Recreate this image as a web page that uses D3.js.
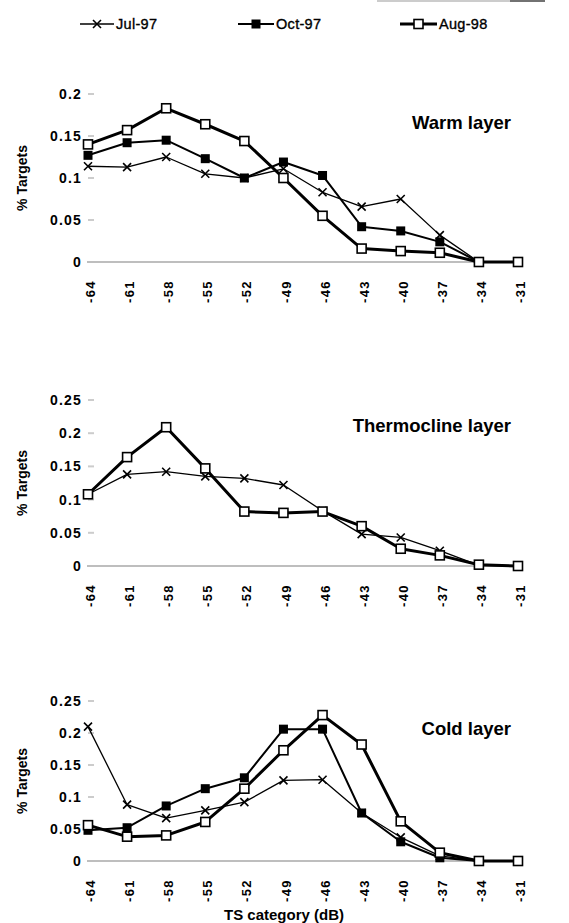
<!DOCTYPE html>
<html>
<head>
<meta charset="utf-8">
<script src="https://cdn.jsdelivr.net/npm/d3@7"></script>
<style>
  html, body { margin: 0; padding: 0; background: #fff; }
  svg { display: block; font-family: "Liberation Sans", Arial, sans-serif; }
</style>
</head>
<body>
<svg id="chart" width="569" height="923"></svg>
<script>
// TS categories (dB) along the x axis
const categories = [-64, -61, -58, -55, -52, -49, -46, -43, -40, -37, -34, -31];

const seriesNames = ["Jul-97", "Oct-97", "Aug-98"];

// Warm layer
const warmJul97 = [0.114, 0.113, 0.125, 0.105, 0.100, 0.111, 0.083, 0.066, 0.075, 0.032, 0.000, 0.000];
const warmOct97 = [0.127, 0.142, 0.145, 0.123, 0.100, 0.119, 0.103, 0.042, 0.037, 0.024, 0.000, 0.000];
const warmAug98 = [0.140, 0.157, 0.183, 0.164, 0.144, 0.100, 0.055, 0.016, 0.013, 0.011, 0.000, 0.000];

// Thermocline layer
const thermoJul97 = [0.108, 0.138, 0.142, 0.135, 0.132, 0.122, 0.083, 0.048, 0.043, 0.023, 0.001, 0.000];
const thermoAug98 = [0.108, 0.164, 0.209, 0.147, 0.082, 0.080, 0.082, 0.060, 0.026, 0.016, 0.002, 0.000];

// Cold layer
const coldJul97 = [0.210, 0.088, 0.067, 0.079, 0.092, 0.126, 0.127, 0.075, 0.037, 0.008, 0.000, 0.000];
const coldOct97 = [0.048, 0.052, 0.086, 0.113, 0.130, 0.206, 0.206, 0.075, 0.030, 0.005, 0.000, 0.000];
const coldAug98 = [0.056, 0.038, 0.040, 0.061, 0.113, 0.173, 0.228, 0.182, 0.062, 0.013, 0.000, 0.000];

const warmTicks = [0, 0.05, 0.1, 0.15, 0.2];
const layerTicks = [0, 0.05, 0.1, 0.15, 0.2, 0.25];

const panels = [
  { title: "Warm layer", yMax: 0.2, ticks: warmTicks, top: 94, bottom: 262, titleX: 511, titleY: 129,
    series: [ { name: "Jul-97", values: warmJul97 }, { name: "Oct-97", values: warmOct97 }, { name: "Aug-98", values: warmAug98 } ] },
  { title: "Thermocline layer", yMax: 0.25, ticks: layerTicks, top: 400, bottom: 566, titleX: 511, titleY: 432,
    series: [ { name: "Jul-97", values: thermoJul97 }, { name: "Aug-98", values: thermoAug98 } ] },
  { title: "Cold layer", yMax: 0.25, ticks: layerTicks, top: 701, bottom: 861, titleX: 511, titleY: 735,
    series: [ { name: "Jul-97", values: coldJul97 }, { name: "Oct-97", values: coldOct97 }, { name: "Aug-98", values: coldAug98 } ] }
];

const styles = {
  "Jul-97": { width: 1.3, marker: "x" },
  "Oct-97": { width: 2.0, marker: "filled" },
  "Aug-98": { width: 3.0, marker: "open" }
};

const svg = d3.select("#chart");
const x = d3.scalePoint().domain(categories).range([88, 518]);

function drawMarker(g, type, cx, cy) {
  if (type === "x") {
    const s = 4;
    g.append("path")
      .attr("d", `M${cx - s},${cy - s}L${cx + s},${cy + s}M${cx - s},${cy + s}L${cx + s},${cy - s}`)
      .attr("stroke", "#000").attr("stroke-width", 1.6).attr("fill", "none");
  } else if (type === "filled") {
    g.append("rect").attr("x", cx - 4.5).attr("y", cy - 4.5).attr("width", 9).attr("height", 9)
      .attr("fill", "#000");
  } else {
    g.append("rect").attr("x", cx - 4.5).attr("y", cy - 4.5).attr("width", 9).attr("height", 9)
      .attr("fill", "#fff").attr("stroke", "#000").attr("stroke-width", 1.6);
  }
}

// faint rule at the very top of the sheet
svg.append("line").attr("x1", 377).attr("x2", 545).attr("y1", 1).attr("y2", 1)
  .attr("stroke", "#bbb").attr("stroke-width", 1.5);
svg.append("line").attr("x1", 510).attr("x2", 545).attr("y1", 1).attr("y2", 1)
  .attr("stroke", "#555").attr("stroke-width", 1.5);

// Legend
const legendItems = [
  { name: "Jul-97", x1: 80, x2: 114 },
  { name: "Oct-97", x1: 238, x2: 274 },
  { name: "Aug-98", x1: 400, x2: 437 }
];
const legend = svg.append("g");
legendItems.forEach(d => {
  const st = styles[d.name];
  legend.append("line").attr("x1", d.x1).attr("x2", d.x2).attr("y1", 24).attr("y2", 24)
    .attr("stroke", "#000").attr("stroke-width", st.width);
  drawMarker(legend, st.marker, (d.x1 + d.x2) / 2, 24);
  legend.append("text").attr("x", d.x2 + 2).attr("y", 29)
    .attr("font-size", 14.5).attr("fill", "#000")
    .attr("stroke", "#000").attr("stroke-width", 0.35)
    .attr("letter-spacing", 0.3)
    .text(d.name);
});

const tickFont = { size: 14, spacing: 1.2 };

panels.forEach((p, i) => {
  const g = svg.append("g");
  const y = d3.scaleLinear().domain([0, p.yMax]).range([p.bottom, p.top]);

  // y axis: labels and faint tick marks
  const yAxis = d3.axisLeft(y).tickValues(p.ticks).tickSize(0).tickPadding(0)
    .tickFormat(d => d === 0 ? "0" : String(+d.toFixed(2)));
  const ya = g.append("g").attr("transform", "translate(82,0)").call(yAxis);
  ya.select(".domain").remove();
  ya.selectAll("text").attr("font-size", tickFont.size).attr("font-weight", "bold")
    .attr("letter-spacing", tickFont.spacing).attr("fill", "#000")
    .attr("font-family", "'Liberation Sans', Arial, sans-serif");
  g.selectAll(".ytick").data(p.ticks.filter(t => t > 0)).join("line")
    .attr("x1", 88).attr("x2", 94).attr("y1", d => y(d)).attr("y2", d => y(d))
    .attr("stroke", "#ccc").attr("stroke-width", 2);

  // zero line
  g.append("line").attr("x1", 87).attr("x2", 506).attr("y1", y(0)).attr("y2", y(0))
    .attr("stroke", "#a8a8a8").attr("stroke-width", 1.5);

  // x axis labels, rotated to read upward
  const xAxis = d3.axisBottom(x).tickSize(0).tickPadding(0);
  const xa = g.append("g").attr("transform", `translate(0,${y(0) + 14})`).call(xAxis);
  xa.select(".domain").remove();
  xa.selectAll("text")
    .attr("transform", "rotate(-90)")
    .attr("text-anchor", "end")
    .attr("dy", "0.35em")
    .attr("x", 0).attr("y", 2)
    .attr("font-size", 13).attr("font-weight", "bold")
    .attr("letter-spacing", 1.3).attr("fill", "#000")
    .attr("font-family", "'Liberation Sans', Arial, sans-serif");
  xa.selectAll("text").attr("text-anchor", "start").attr("x", -27);

  // y title
  g.append("text")
    .attr("transform", `translate(27,${(p.top + p.bottom) / 2}) rotate(-90)`)
    .attr("text-anchor", "middle").attr("font-size", 14).attr("font-weight", "bold")
    .text("% Targets");

  // panel title
  g.append("text").attr("x", p.titleX).attr("y", p.titleY)
    .attr("text-anchor", "end").attr("font-size", 18.5).attr("font-weight", "bold")
    .text(p.title);

  // series lines, then markers on top
  p.series.forEach(s => {
    const st = styles[s.name];
    const pts = categories.map((c, k) => [x(c), y(s.values[k])]);
    g.append("path").attr("d", d3.line()(pts))
      .attr("fill", "none").attr("stroke", "#000").attr("stroke-width", st.width)
      .attr("stroke-linejoin", "round");
  });
  p.series.forEach(s => {
    const st = styles[s.name];
    const mg = g.append("g");
    categories.forEach((c, k) => drawMarker(mg, st.marker, x(c), y(s.values[k])));
  });
});

// x axis title
svg.append("text").attr("x", 284).attr("y", 920)
  .attr("text-anchor", "middle").attr("font-size", 15).attr("font-weight", "bold")
  .text("TS category (dB)");
</script>
</body>
</html>
